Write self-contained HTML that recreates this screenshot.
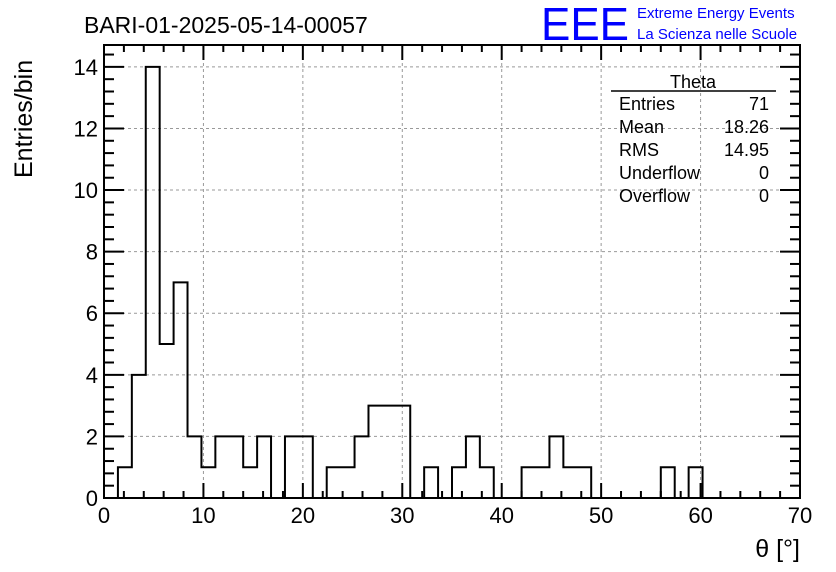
<!DOCTYPE html>
<html><head><meta charset="utf-8"><style>
html,body{margin:0;padding:0;background:#fff;}
svg{display:block;font-family:"Liberation Sans",sans-serif;}
</style></head><body>
<svg id="chart" width="836" height="572" viewBox="0 0 836 572" xmlns="http://www.w3.org/2000/svg">
<rect width="836" height="572" fill="#fff"/>
<g id="grid"></g>
<g id="hist"></g>
<g id="axes"></g>
<text x="84" y="33" font-size="23">BARI-01-2025-05-14-00057</text>
<text x="541" y="40" font-size="46" fill="#0000ff" textLength="88" lengthAdjust="spacingAndGlyphs">EEE</text>
<text x="637" y="18" font-size="15" fill="#0000ff">Extreme Energy Events</text>
<text x="637" y="39" font-size="15" fill="#0000ff">La Scienza nelle Scuole</text>
<text transform="translate(32,178) rotate(-90)" font-size="25">Entries/bin</text>
<text x="800" y="557" font-size="25" text-anchor="end">θ [°]</text>
<g font-size="18">
<text x="693" y="88" text-anchor="middle">Theta</text>
<line x1="611" y1="91" x2="776" y2="91" stroke="#000" stroke-width="1.5"/>
<text x="619" y="110">Entries</text><text x="769" y="110" text-anchor="end">71</text>
<text x="619" y="133">Mean</text><text x="769" y="133" text-anchor="end">18.26</text>
<text x="619" y="156">RMS</text><text x="769" y="156" text-anchor="end">14.95</text>
<text x="619" y="179">Underflow</text><text x="769" y="179" text-anchor="end">0</text>
<text x="619" y="202">Overflow</text><text x="769" y="202" text-anchor="end">0</text>
</g>
</svg>
<script>
const binWidth = 1.4;
const counts = [0,1,4,14,5,7,2,1,2,2,1,2,0,2,2,0,1,1,2,3,3,3,0,1,0,1,2,1,0,0,1,1,2,1,1,0,0,0,0,0,1,0,1,0,0,0,0,0,0,0];
const xTicks = [0,10,20,30,40,50,60,70];
const yTicks = [0,2,4,6,8,10,12,14];
const X0=104,X1=800,Y0=498,Y1=45;
const xMin=0,xMax=70,yMin=0,yMax=14.71;
const sx=v=>X0+(v-xMin)/(xMax-xMin)*(X1-X0);
const sy=v=>Y0-(v-yMin)/(yMax-yMin)*(Y0-Y1);
const NS="http://www.w3.org/2000/svg";
function mk(tag,attrs,parent){const e=document.createElementNS(NS,tag);for(const k in attrs)e.setAttribute(k,attrs[k]);parent.appendChild(e);return e;}
const grid=document.getElementById('grid'),axes=document.getElementById('axes'),hist=document.getElementById('hist');
xTicks.forEach(t=>{if(t>xMin&&t<xMax){const l=mk('line',{x1:sx(t),x2:sx(t),y1:Y0,y2:Y1,stroke:'#999','stroke-dasharray':'3,3','stroke-width':1},grid);

}});
yTicks.forEach(t=>{if(t>yMin){const l=mk('line',{x1:X0,x2:X1,y1:sy(t),y2:sy(t),stroke:'#999','stroke-dasharray':'3,3','stroke-width':1},grid);

}});
let d='M'+sx(0)+','+sy(0);
counts.forEach((c,i)=>{d+=' L'+sx(i*binWidth)+','+sy(c)+' L'+sx((i+1)*binWidth)+','+sy(c);});
d+=' L'+sx(counts.length*binWidth)+','+sy(0);
const p=mk('path',{d:d,fill:'none',stroke:'#000','stroke-width':2},hist);


const fr=mk('rect',{x:X0,y:Y1,width:X1-X0,height:Y0-Y1,fill:'none',stroke:'#000','stroke-width':2},axes);


for(let v=0;v<=70;v+=2){const maj=v%10===0,L=maj?15:7;
mk('line',{x1:sx(v),x2:sx(v),y1:Y0,y2:Y0-L,stroke:'#000','stroke-width':2},axes);
mk('line',{x1:sx(v),x2:sx(v),y1:Y1,y2:Y1+L,stroke:'#000','stroke-width':2},axes);}
for(let k=0;k<=36;k++){const v=k*0.4;if(v>yMax)break;const maj=k%5===0,L=maj?20:10;
mk('line',{x1:X0,x2:X0+L,y1:sy(v),y2:sy(v),stroke:'#000','stroke-width':2},axes);
mk('line',{x1:X1,x2:X1-L,y1:sy(v),y2:sy(v),stroke:'#000','stroke-width':2},axes);}
xTicks.forEach(t=>{const e=mk('text',{x:sx(t),y:Y0+25,'font-size':22,'text-anchor':'middle'},axes);e.textContent=t;

});
yTicks.forEach(t=>{const e=mk('text',{x:X0-6,y:sy(t)+8,'font-size':22,'text-anchor':'end'},axes);e.textContent=t;

});
</script>
</body></html>
